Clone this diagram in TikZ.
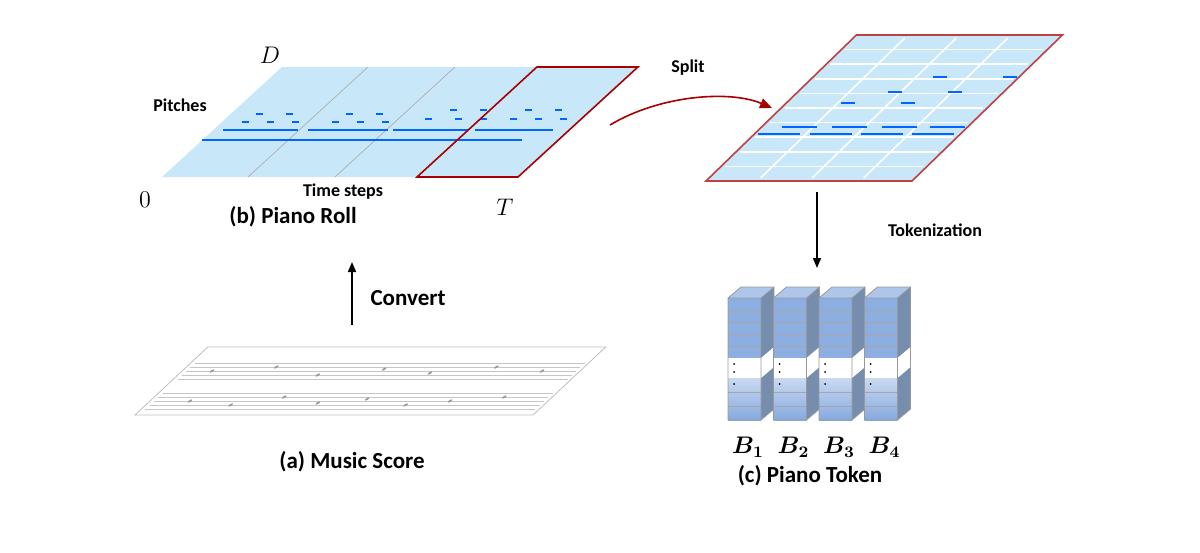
\documentclass[tikz,border=0pt]{standalone}
\usepackage{fontspec}
\setsansfont{Carlito}
\usepackage{amsmath}
\usetikzlibrary{positioning,calc,arrows.meta}

\begin{document}
\begin{tikzpicture}[x=0.5pt,y=-0.5pt]

        \useasboundingbox (0,0) rectangle (1200,552);

        % Styles for the labels and the arrows
        \tikzset{lab/.style={font=\sffamily\bfseries\fontsize{11.5}{13}\selectfont},
                 small/.style={font=\sffamily\bfseries\fontsize{9}{11}\selectfont},
                 axis/.style={font=\fontsize{12}{14}\selectfont},
                 note/.style={blue!60!cyan, line width=1.3pt},
                 flow/.style={-{Triangle[length=5pt,width=4pt]}, thick}}
        \definecolor{roll}{RGB}{200,232,250}
        \definecolor{cell}{RGB}{120,160,220}

        % (a) music score, slanted sheet
        \begin{scope}[shift={(135,415)}, xslant=1.07]
            \draw[gray!50, fill=white] (0,0) rectangle (398,-68);
            \foreach \s in {6,36} {
                \foreach \l in {0,...,4}
                    \draw[gray!45, very thin] (4,-\s-\l*4) -- (394,-\s-\l*4);
            }
            \foreach \u/\v in {40/14,85/10,130/18,170/12,215/16,260/10,300/14,350/18,
                               30/44,90/48,140/40,200/46,250/42,310/48,360/44}
                \fill[gray!80] (\u,-\v) circle (1.6);
        \end{scope}
        \node[lab] (score) at (352,462) {(a) Music Score};

        % (b) piano roll
        \begin{scope}[shift={(162,177)}, xslant=1.09]
            \fill[roll] (0,0) rectangle (356,-110);
            \draw[gray!60, thin] (86,0) -- (86,-110);
            \draw[gray!60, thin] (173,0) -- (173,-110);
            \draw[note, line width=1pt] (0,-37) -- (320,-37);
            \foreach \a/\b in {10/85,95/175,180/255,262/340}
                \draw[note, line width=1pt] (\a,-47) -- (\b,-47);
            \foreach \u/\v in {20/55,45/55,70/55,25/63,55/63,110/55,135/55,160/55,
                               115/63,145/63,200/58,230/58,255/58,215/67,245/67,
                               285/58,310/58,335/58,290/67,320/67}
                \draw[note] (\u,-\v) -- (\u+7,-\v);
            \draw[red!65!black, thick] (255,0) rectangle (356,-110);
        \end{scope}
        \node[axis] (D) at (270,55) {$D$};
        \node[small] (pitch) at (180,105) {Pitches};
        \node[axis] (zero) at (145,200) {$0$};
        \node[small] (time) at (343,192) {Time steps};
        \node[axis] (T) at (505,207) {$T$};
        \node[lab] (roll) at (293,217) {(b) Piano Roll};

        % split piece
        \begin{scope}[shift={(706,181)}, xslant=1.03]
            \fill[roll] (0,0) rectangle (206,-146);
            \foreach \k in {1,...,9}
                \draw[white, thick] (4,-\k*14.6) -- (202,-\k*14.6);
            \foreach \k in {1,2,3}
                \draw[white, thick] (\k*51.5,-3) -- (\k*51.5,-143);
            \foreach \a in {4,56,107,158}
                \draw[note] (\a,-47) -- (\a+42,-47);
            \foreach \a in {20,70,120,168}
                \draw[note] (\a,-54) -- (\a+35,-54);
            \foreach \u/\v in {55/78,115/78,90/89,150/89,120/104,190/104}
                \draw[note] (\u,-\v) -- (\u+14,-\v);
            \draw[red!50!gray, thick] (0,0) rectangle (206,-146);
        \end{scope}
        \coordinate (piece) at (772,108);
        \coordinate (rollend) at (610,125);
        \draw[-{Triangle[length=6pt,width=5pt]}, red!65!black, thick]
            (rollend) .. controls (660,95) and (730,90) .. (piece);
        \node[small] (split) at (688,68) {Split};

        % (c) piano tokens
        \foreach \i in {0,...,3} {
            \pgfmathsetmacro\x{728+45.5*\i}
            \begin{scope}[shift={(\x,0)}]
                \fill[cell!70!black!80] (33,298) -- (46,287) -- (46,409) -- (33,420) -- cycle;
                \fill[cell!60] (0,298) -- (13,287) -- (46,287) -- (33,298) -- cycle;
                \fill[cell!85] (0,298) rectangle (33,358);
                \shade[top color=cell!40, bottom color=cell!90] (0,378) rectangle (33,420);
                \fill[white] (0,358) rectangle (33,378);
                \fill[white] (33,358) -- (46,347) -- (46,367) -- (33,378) -- cycle;
                \foreach \y in {310,322,334,346,392,406}
                    \draw[gray!70, thin] (0,\y) -- (33,\y);
                \foreach \y in {364,372,384}
                    \fill (6,\y) circle (1);
                \draw[gray!80] (0,298) -- (13,287) -- (46,287) -- (46,409) -- (33,420) -- (0,420) -- cycle;
                \draw[gray!80] (0,298) -- (33,298) -- (46,287) (33,298) -- (33,420);
            \end{scope}
            \pgfmathtruncatemacro\n{\i+1}
            \node[axis] (B\n) at (\x+20,447) {$\boldsymbol{B_{\n}}$};
        }
        \node[lab] (token) at (810,476) {(c) Piano Token};

        % arrows between stages
        \coordinate (sc) at (352,325);
        \coordinate (pr) at (352,262);
        \draw[flow] (sc) -- (pr);
        \node[lab] (conv) at (408,298) {Convert};
        \coordinate (pa) at (817,192);
        \coordinate (pb) at (817,268);
        \draw[flow] (pa) -- (pb);
        \node[small] (tok) at (935,230) {Tokenization};

\end{tikzpicture}
\end{document}
